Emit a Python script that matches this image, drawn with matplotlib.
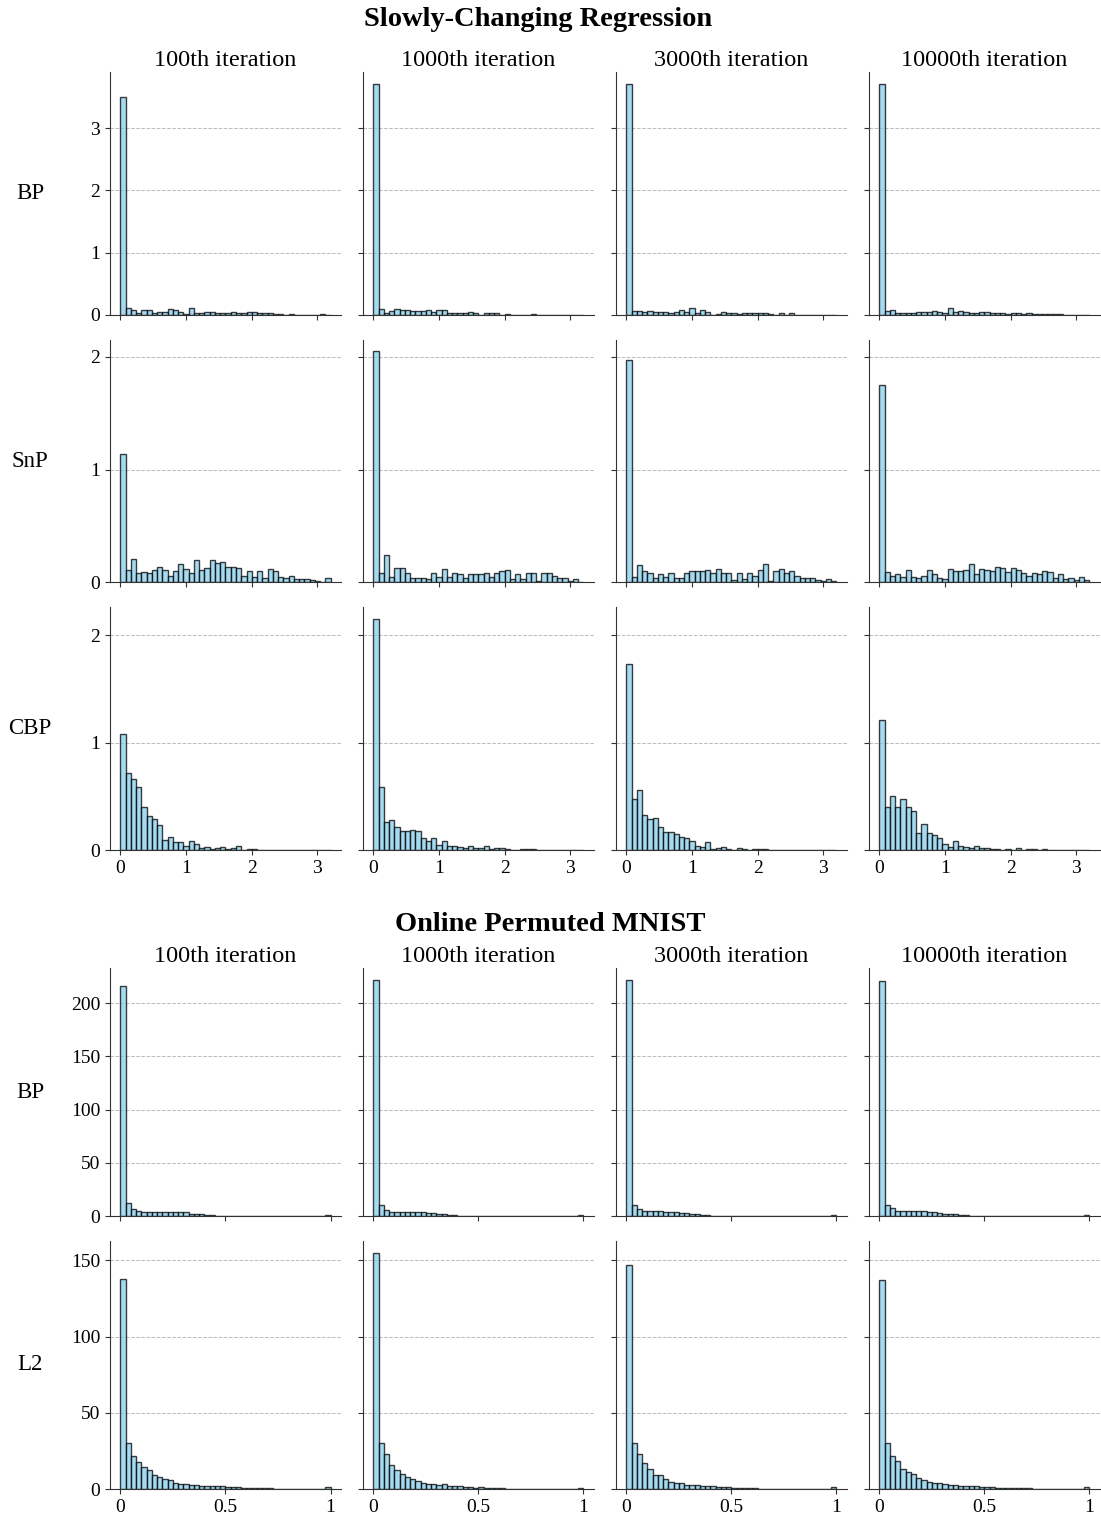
import matplotlib
matplotlib.use("Agg")
import matplotlib.pyplot as plt
import numpy as np

plt.rcParams['font.family'] = ['Liberation Serif', 'DejaVu Serif']

iterations = ["100th iteration", "1000th iteration", "3000th iteration", "10000th iteration"]

# Slowly-Changing Regression, 40 bins over [0, 3.2]
reg_rows = ["BP", "SnP", "CBP"]
reg_bp = [
    [3.50, 0.10, 0.07, 0.02, 0.07, 0.07, 0.02, 0.05, 0.04, 0.09,
     0.08, 0.04, 0.01, 0.11, 0.03, 0.03, 0.05, 0.04, 0.03, 0.03,
     0.03, 0.04, 0.03, 0.02, 0.04, 0.04, 0.02, 0.03, 0.02, 0.01,
     0.01, 0.00, 0.01, 0.00, 0.00, 0.00, 0.00, 0.00, 0.01, 0.00],
    [3.72, 0.09, 0.03, 0.06, 0.09, 0.08, 0.08, 0.06, 0.06, 0.06,
     0.08, 0.04, 0.07, 0.07, 0.02, 0.02, 0.02, 0.02, 0.04, 0.02,
     0.00, 0.02, 0.02, 0.02, 0.00, 0.01, 0.00, 0.00, 0.00, 0.00,
     0.01, 0.00, 0.00, 0.00, 0.00, 0.00, 0.00, 0.00, 0.00, 0.00],
    [3.72, 0.06, 0.06, 0.04, 0.06, 0.05, 0.05, 0.05, 0.02, 0.04,
     0.08, 0.04, 0.10, 0.02, 0.08, 0.05, 0.00, 0.01, 0.05, 0.02,
     0.02, 0.01, 0.02, 0.02, 0.02, 0.02, 0.02, 0.01, 0.00, 0.02,
     0.00, 0.02, 0.00, 0.00, 0.00, 0.00, 0.00, 0.00, 0.00, 0.00],
    [3.72, 0.06, 0.08, 0.02, 0.02, 0.02, 0.03, 0.04, 0.04, 0.04,
     0.06, 0.05, 0.03, 0.10, 0.04, 0.06, 0.04, 0.03, 0.02, 0.04,
     0.04, 0.02, 0.02, 0.02, 0.01, 0.02, 0.02, 0.01, 0.02, 0.01,
     0.01, 0.01, 0.01, 0.01, 0.01, 0.00, 0.00, 0.00, 0.00, 0.00],
]
reg_snp = [
    [1.14, 0.11, 0.21, 0.08, 0.09, 0.08, 0.11, 0.14, 0.11, 0.06,
     0.10, 0.16, 0.12, 0.08, 0.20, 0.11, 0.13, 0.20, 0.17, 0.18,
     0.14, 0.14, 0.13, 0.06, 0.10, 0.05, 0.10, 0.04, 0.12, 0.10,
     0.05, 0.04, 0.06, 0.03, 0.03, 0.03, 0.02, 0.01, 0.00, 0.04],
    [2.05, 0.08, 0.24, 0.05, 0.13, 0.13, 0.08, 0.04, 0.04, 0.04,
     0.03, 0.08, 0.05, 0.12, 0.05, 0.08, 0.07, 0.04, 0.07, 0.07,
     0.07, 0.08, 0.05, 0.08, 0.10, 0.11, 0.03, 0.07, 0.03, 0.08,
     0.08, 0.01, 0.08, 0.08, 0.06, 0.04, 0.04, 0.01, 0.03, 0.00],
    [1.97, 0.05, 0.15, 0.10, 0.08, 0.04, 0.07, 0.05, 0.08, 0.04,
     0.04, 0.08, 0.10, 0.10, 0.10, 0.11, 0.08, 0.12, 0.08, 0.08,
     0.02, 0.08, 0.03, 0.08, 0.06, 0.11, 0.16, 0.01, 0.10, 0.12,
     0.08, 0.10, 0.06, 0.04, 0.04, 0.04, 0.02, 0.01, 0.03, 0.01],
    [1.75, 0.09, 0.06, 0.07, 0.05, 0.11, 0.05, 0.04, 0.06, 0.11,
     0.07, 0.04, 0.03, 0.12, 0.10, 0.10, 0.11, 0.16, 0.07, 0.12,
     0.11, 0.10, 0.14, 0.13, 0.09, 0.13, 0.11, 0.08, 0.06, 0.08,
     0.07, 0.10, 0.09, 0.04, 0.07, 0.03, 0.04, 0.02, 0.05, 0.02],
]
reg_cbp = [
    [1.08, 0.72, 0.66, 0.59, 0.40, 0.32, 0.29, 0.23, 0.09, 0.12,
     0.07, 0.07, 0.04, 0.08, 0.06, 0.02, 0.03, 0.01, 0.02, 0.03,
     0.01, 0.02, 0.04, 0.00, 0.01, 0.01, 0.00, 0.00, 0.00, 0.00,
     0.00, 0.00, 0.00, 0.00, 0.00, 0.00, 0.00, 0.00, 0.00, 0.00],
    [2.15, 0.59, 0.26, 0.28, 0.21, 0.18, 0.18, 0.19, 0.18, 0.11,
     0.08, 0.11, 0.05, 0.08, 0.04, 0.04, 0.03, 0.02, 0.04, 0.02,
     0.02, 0.04, 0.01, 0.02, 0.02, 0.01, 0.00, 0.00, 0.01, 0.01,
     0.01, 0.00, 0.00, 0.00, 0.00, 0.00, 0.00, 0.00, 0.00, 0.00],
    [1.73, 0.47, 0.56, 0.33, 0.29, 0.30, 0.21, 0.17, 0.17, 0.15,
     0.12, 0.11, 0.08, 0.04, 0.03, 0.07, 0.01, 0.02, 0.03, 0.01,
     0.00, 0.02, 0.01, 0.00, 0.01, 0.01, 0.01, 0.00, 0.00, 0.00,
     0.00, 0.00, 0.00, 0.00, 0.00, 0.00, 0.00, 0.00, 0.00, 0.00],
    [1.21, 0.40, 0.50, 0.40, 0.47, 0.40, 0.36, 0.16, 0.24, 0.16,
     0.14, 0.11, 0.06, 0.03, 0.08, 0.04, 0.03, 0.02, 0.04, 0.02,
     0.02, 0.01, 0.01, 0.00, 0.01, 0.00, 0.02, 0.00, 0.01, 0.01,
     0.00, 0.01, 0.00, 0.00, 0.00, 0.00, 0.00, 0.00, 0.00, 0.00],
]

# Online Permuted MNIST, 40 bins over [0, 1]
mnist_rows = ["BP", "L2"]
mnist_bp = [
    [216, 12.4, 6.8, 4.7, 3.7, 3.7, 3.4, 3.7, 3.7, 4.3,
     3.7, 3.7, 3.7, 2.2, 1.9, 1.6, 0.9, 0.6, 0.3, 0.3,
     0.2, 0.2, 0.2, 0.1, 0.1, 0.1, 0.1, 0.1, 0.1, 0.1,
     0.1, 0.1, 0.1, 0.1, 0.1, 0.1, 0.1, 0.2, 0.3, 1.0],
    [222, 10.0, 5.5, 4.0, 3.5, 3.5, 4.0, 3.5, 3.8, 3.5,
     3.0, 2.6, 1.8, 1.8, 1.2, 0.6, 0.5, 0.4, 0.3, 0.2,
     0.2, 0.2, 0.1, 0.1, 0.1, 0.1, 0.1, 0.1, 0.1, 0.1,
     0.1, 0.1, 0.1, 0.1, 0.1, 0.1, 0.1, 0.1, 0.3, 1.0],
    [222, 10.0, 7.0, 4.5, 4.5, 4.5, 4.5, 4.3, 3.8, 3.5,
     3.0, 2.5, 1.8, 1.5, 1.2, 0.8, 0.5, 0.4, 0.3, 0.2,
     0.2, 0.2, 0.1, 0.1, 0.1, 0.1, 0.1, 0.1, 0.1, 0.1,
     0.1, 0.1, 0.1, 0.1, 0.1, 0.1, 0.1, 0.1, 0.3, 1.0],
    [221, 10.0, 8.0, 5.0, 5.0, 5.2, 5.2, 5.0, 4.5, 4.0,
     3.5, 3.0, 2.3, 2.0, 1.5, 1.0, 0.7, 0.5, 0.4, 0.3,
     0.2, 0.2, 0.2, 0.1, 0.1, 0.1, 0.1, 0.1, 0.1, 0.1,
     0.1, 0.1, 0.1, 0.1, 0.1, 0.1, 0.1, 0.1, 0.2, 0.8],
]
mnist_l2 = [
    [137.7, 30.0, 21.6, 17.7, 14.5, 12.8, 9.3, 7.8, 6.7, 5.6,
     4.1, 3.5, 3.0, 2.8, 2.4, 2.2, 1.9, 1.7, 1.9, 1.7,
     1.5, 1.3, 1.1, 0.9, 0.9, 0.6, 0.5, 0.4, 0.4, 0.3,
     0.3, 0.3, 0.2, 0.2, 0.2, 0.2, 0.2, 0.2, 0.2, 1.1],
    [155.0, 29.9, 22.7, 16.0, 12.8, 9.7, 7.8, 6.5, 5.2, 3.9,
     3.5, 3.2, 2.6, 3.0, 1.9, 2.2, 1.9, 1.5, 1.3, 0.9,
     1.1, 0.6, 0.6, 0.4, 0.4, 0.3, 0.3, 0.3, 0.3, 0.3,
     0.2, 0.2, 0.2, 0.2, 0.2, 0.2, 0.2, 0.2, 0.2, 0.9],
    [147.0, 29.9, 22.7, 16.9, 13.4, 9.5, 8.9, 6.3, 4.8, 3.9,
     3.7, 2.6, 2.6, 2.8, 1.9, 1.7, 1.7, 1.3, 1.1, 1.5,
     0.9, 0.6, 0.6, 0.4, 0.4, 0.3, 0.3, 0.3, 0.3, 0.3,
     0.2, 0.2, 0.2, 0.2, 0.3, 0.2, 0.2, 0.2, 0.2, 1.1],
    [137.0, 30.3, 21.4, 18.6, 13.4, 11.0, 9.7, 6.9, 6.1, 4.3,
     3.9, 3.9, 3.0, 2.6, 2.4, 1.9, 1.7, 1.7, 1.7, 1.5,
     1.3, 1.1, 0.9, 0.6, 0.6, 0.6, 0.4, 0.4, 0.6, 0.3,
     0.3, 0.3, 0.2, 0.2, 0.2, 0.3, 0.2, 0.2, 0.2, 1.1],
]

reg_edges = np.linspace(0, 3.2, 41)
mnist_edges = np.linspace(0, 1, 41)


def draw_hist(ax, edges, heights):
    ax.bar(edges[:-1], heights, width=np.diff(edges), align='edge',
           color='skyblue', alpha=0.75, edgecolor='black', linewidth=1.0)
    ax.yaxis.grid(True, linestyle='--', color='#bbbbbb', linewidth=0.7)
    ax.set_axisbelow(True)
    for s in ['top', 'right']:
        ax.spines[s].set_visible(False)
    for s in ['left', 'bottom']:
        ax.spines[s].set_color('#333333')
    ax.tick_params(labelsize=14, length=3.5, color='#333333')


fig = plt.figure(figsize=(11.01, 15.16), dpi=100)

# ---- top block ----
gs1 = fig.add_gridspec(3, 4, left=0.0999, right=0.999, top=0.9525, bottom=0.4393,
                       wspace=0.095, hspace=0.103)
reg_data = [reg_bp, reg_snp, reg_cbp]
axes1 = np.empty((3, 4), dtype=object)
for r in range(3):
    for c in range(4):
        kw = {}
        if c > 0:
            kw['sharey'] = axes1[r, 0]
        if r > 0:
            kw['sharex'] = axes1[0, c]
        ax = fig.add_subplot(gs1[r, c], **kw)
        axes1[r, c] = ax
        draw_hist(ax, reg_edges, reg_data[r][c])
        ax.set_xticks([0, 1, 2, 3])
        if r < 2:
            ax.tick_params(labelbottom=False)
        if c > 0:
            ax.tick_params(labelleft=False)
        if r == 0:
            ax.set_title(iterations[c], fontsize=17.5, pad=4)
    axes1[r, 0].set_yticks([0, 1, 2, 3] if r == 0 else [0, 1, 2])
    pos = axes1[r, 0].get_position()
    fig.text(30 / 1101, (pos.y0 + pos.y1) / 2, reg_rows[r], fontsize=16.5,
             ha='center', va='center')

fig.text(538 / 1101, 1 - 20 / 1516, "Slowly-Changing Regression", fontsize=20.5,
         fontweight='bold', ha='center', va='center')

# ---- bottom block ----
gs2 = fig.add_gridspec(2, 4, left=0.0999, right=0.999, top=0.3615, bottom=0.0178,
                       wspace=0.095, hspace=0.1)
mnist_data = [mnist_bp, mnist_l2]
axes2 = np.empty((2, 4), dtype=object)
for r in range(2):
    for c in range(4):
        kw = {}
        if c > 0:
            kw['sharey'] = axes2[r, 0]
        if r > 0:
            kw['sharex'] = axes2[0, c]
        ax = fig.add_subplot(gs2[r, c], **kw)
        axes2[r, c] = ax
        draw_hist(ax, mnist_edges, mnist_data[r][c])
        ax.set_xticks([0, 0.5, 1])
        ax.set_xticklabels(["0", "0.5", "1"])
        if r < 1:
            ax.tick_params(labelbottom=False)
        if c > 0:
            ax.tick_params(labelleft=False)
        if r == 0:
            ax.set_title(iterations[c], fontsize=17.5, pad=4)
    axes2[r, 0].set_yticks([0, 50, 100, 150, 200] if r == 0 else [0, 50, 100, 150])
    pos = axes2[r, 0].get_position()
    fig.text(30 / 1101, (pos.y0 + pos.y1) / 2, mnist_rows[r], fontsize=16.5,
             ha='center', va='center')

fig.text(550 / 1101, 1 - 924 / 1516, "Online Permuted MNIST", fontsize=20.5,
         fontweight='bold', ha='center', va='center')

fig.savefig("out.png", dpi=100)
